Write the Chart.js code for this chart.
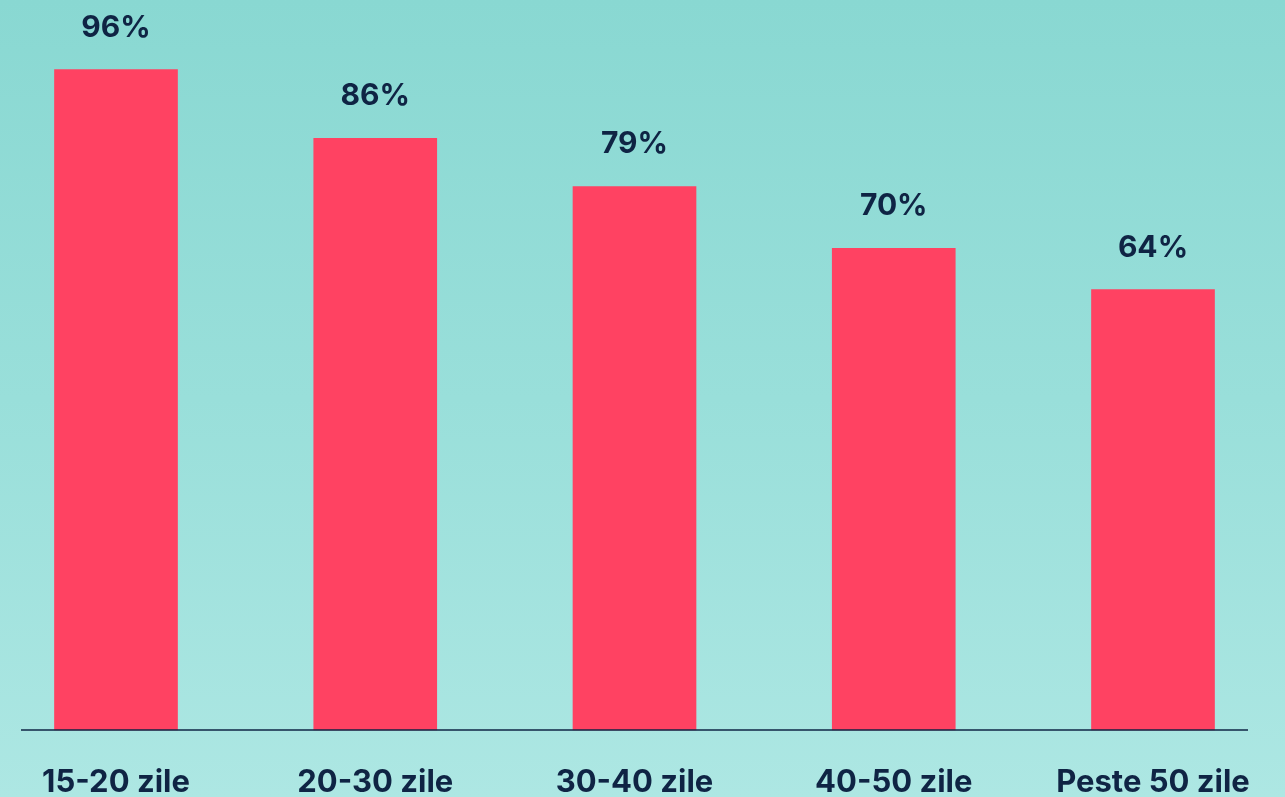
<!DOCTYPE html>
<html>
<head>
<meta charset="utf-8">
<script src="https://cdn.jsdelivr.net/npm/chart.js@4.4.1/dist/chart.umd.min.js"></script>
<style>
  html, body { margin: 0; padding: 0; }
  body {
    width: 1285px; height: 797px; overflow: hidden;
    background: linear-gradient(180deg, #89d8d2 0%, #99dfda 50%, #ade7e3 100%);
  }
  #wrap { position: relative; width: 1285px; height: 797px; }
</style>
</head>
<body>
<div id="wrap"><canvas id="chart" width="1285" height="797"></canvas></div>
<script>
const categories = ["15-20 zile", "20-30 zile", "30-40 zile", "40-50 zile", "Peste 50 zile"]
const shares     = [96, 86, 79, 70, 64]
const valueTicks = [0, 100]

const NAVY = "#0f2444"
const FONT = "Inter, 'Open Sans', sans-serif"

// value labels above bars
const valueLabels = {
  id: "valueLabels",
  afterDatasetsDraw(chart) {
    const ctx = chart.ctx
    const meta = chart.getDatasetMeta(0)
    ctx.save()
    ctx.fillStyle = NAVY
    ctx.font = `700 30px ${FONT}`
    ctx.textAlign = "center"
    ctx.textBaseline = "alphabetic"
    meta.data.forEach((bar, i) => {
      const { x, y } = bar.getProps(["x", "y"], true)
      ctx.fillText(shares[i] + "%", x, y - 33)
    })
    ctx.restore()
  }
}

// thin dark baseline, wider than the bar area
const baseline = {
  id: "baseline",
  afterDatasetsDraw(chart) {
    const ctx = chart.ctx
    const y = chart.scales.y.getPixelForValue(0)
    ctx.save()
    ctx.strokeStyle = NAVY
    ctx.lineWidth = 1.5
    ctx.beginPath()
    ctx.moveTo(21, y)
    ctx.lineTo(1248, y)
    ctx.stroke()
    ctx.restore()
  }
}

new Chart(document.getElementById("chart"), {
  type: "bar",
  data: {
    labels: categories,
    datasets: [{
      data: shares,
      backgroundColor: "#ff4262",
      borderWidth: 0,
      barThickness: 123,
      clip: false
    }]
  },
  options: {
    responsive: false,
    animation: false,
    layout: { padding: { left: 116, right: 132, top: 42, bottom: 0 } },
    plugins: {
      legend: { display: false },
      tooltip: { enabled: false }
    },
    scales: {
      x: {
        offset: false,
        grid: { display: false },
        border: { display: false },
        afterFit(scale) { scale.height = 67 },
        ticks: {
          color: NAVY,
          padding: 26,
          maxRotation: 0,
          autoSkip: false,
          font: { family: FONT, size: 31, weight: "700" }
        }
      },
      y: {
        display: false,
        min: valueTicks[0],
        max: valueTicks[1]
      }
    }
  },
  plugins: [baseline, valueLabels]
})
</script>
</body>
</html>
